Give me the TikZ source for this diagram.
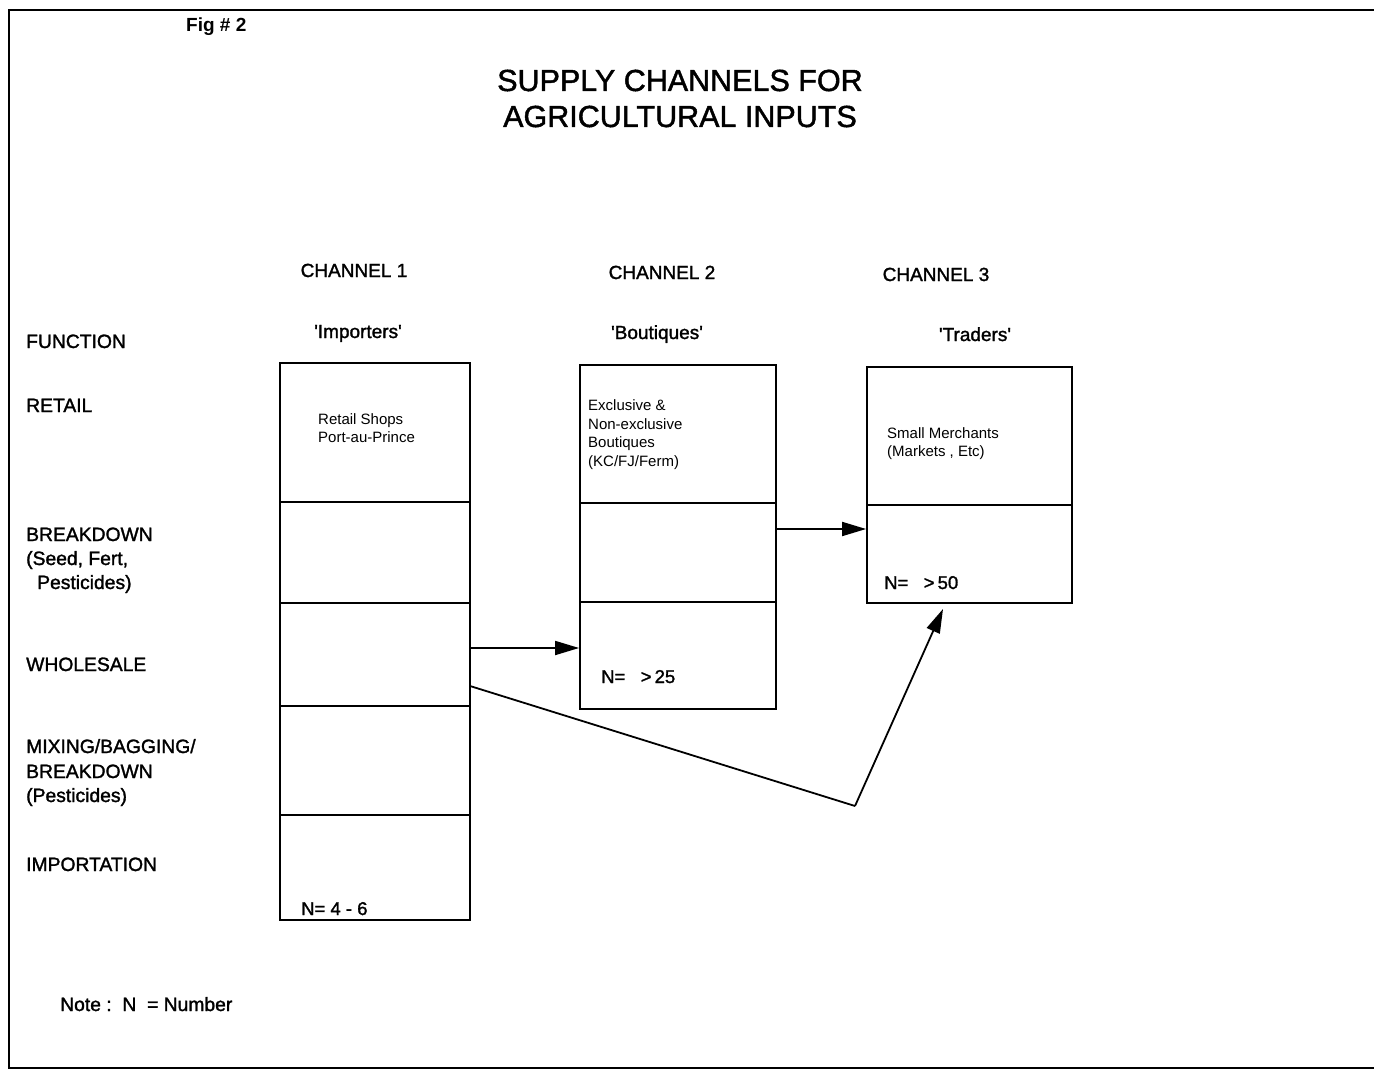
\documentclass[tikz,border=0pt]{standalone}
\usepackage{fontspec}
\setmainfont{Liberation Sans}[BoldFont={Liberation Sans}, BoldFeatures={FakeBold=1.5}]
\newfontfamily\figfont{Liberation Sans Bold}
\usetikzlibrary{arrows.meta}
\begin{document}
\begin{tikzpicture}[x=1pt,y=-1pt,
  cell/.style={draw, line width=1.8pt, inner sep=0pt, rectangle},
  lbl/.style={anchor=base west, inner sep=0pt, font=\bfseries\fontsize{19.3}{22}\selectfont},
  hdr/.style={anchor=base, inner sep=0pt, font=\bfseries\fontsize{19}{22}\selectfont},
  small/.style={anchor=base west, inner sep=0pt, font=\fontsize{15}{18}\selectfont},
  conn/.style={line width=1.8pt},
  arr/.style={line width=1.8pt, -{Triangle[length=24pt,width=14pt]}}]
\useasboundingbox (0,0) rectangle (1374,1070);
% frame
\draw[line width=2.5pt] (1374,10) -- (9,10) -- (9,1068) -- (1374,1068);
% title
\node[anchor=base west, inner sep=0pt, font=\figfont\fontsize{19}{22}\selectfont] (fig) at (186,32) {Fig \# 2};
\node[anchor=base, inner sep=0pt, font=\bfseries\fontsize{30.5}{36}\selectfont] (t1) at (680,91) {SUPPLY CHANNELS FOR};
\node[anchor=base, inner sep=0pt, font=\bfseries\fontsize{30.5}{36}\selectfont] (t2) at (680,127) {AGRICULTURAL INPUTS};
% headers
\node[hdr] (h1) at (354,277) {CHANNEL 1};
\node[hdr] (h2) at (662,279) {CHANNEL 2};
\node[hdr] (h3) at (936,281) {CHANNEL 3};
\node[hdr] (s1) at (358,338) {\textquotesingle Importers\textquotesingle};
\node[hdr] (s2) at (657,339) {\textquotesingle Boutiques\textquotesingle};
\node[hdr] (s3) at (975,341) {\textquotesingle Traders\textquotesingle};
% left labels
\node[lbl] (fn) at (26,348) {FUNCTION};
\node[lbl] (rt) at (26,412) {RETAIL};
\node[lbl] (bd1) at (26,541) {BREAKDOWN};
\node[lbl] (bd2) at (26,565) {(Seed, Fert,};
\node[lbl] (bd3) at (37,589) {Pesticides)};
\node[lbl] (ws) at (26,671) {WHOLESALE};
\node[lbl] (mx1) at (26,753) {MIXING/BAGGING/};
\node[lbl] (mx2) at (26,778) {BREAKDOWN};
\node[lbl] (mx3) at (26,802) {(Pesticides)};
\node[lbl] (im) at (26,871) {IMPORTATION};
\node[lbl] (note) at (60,1011) {Note :\ \ N\ \ = Number};
% channel 1 cells
\node[cell, minimum width=190pt, minimum height=139pt] (c1r1) at (375,432.5) {};
\node[cell, minimum width=190pt, minimum height=101pt] (c1r2) at (375,552.5) {};
\node[cell, minimum width=190pt, minimum height=103pt] (c1r3) at (375,654.5) {};
\node[cell, minimum width=190pt, minimum height=109pt] (c1r4) at (375,760.5) {};
\node[cell, minimum width=190pt, minimum height=105pt] (c1r5) at (375,867.5) {};
% channel 2 cells
\node[cell, minimum width=196pt, minimum height=138pt] (c2r1) at (678,434) {};
\node[cell, minimum width=196pt, minimum height=99pt] (c2r2) at (678,552.5) {};
\node[cell, minimum width=196pt, minimum height=107pt] (c2r3) at (678,655.5) {};
% channel 3 cells
\node[cell, minimum width=205pt, minimum height=138pt] (c3r1) at (969.5,436) {};
\node[cell, minimum width=205pt, minimum height=98pt] (c3r2) at (969.5,554) {};
% cell texts
\node[small] (rs1) at (318,424) {Retail Shops};
\node[small] (rs2) at (318,442) {Port-au-Prince};
\node[small] (ex1) at (588,410) {Exclusive \&};
\node[small] (ex2) at (588,429) {Non-exclusive};
\node[small] (ex3) at (588,447) {Boutiques};
\node[small] (ex4) at (588,466) {(KC/FJ/Ferm)};
\node[small] (sm1) at (887,438) {Small Merchants};
\node[small] (sm2) at (887,456) {(Markets , Etc)};
\node[lbl, font=\bfseries\fontsize{18.5}{22}\selectfont] (n2) at (601,683) {N=\ \ \ >\,25};
\node[lbl, font=\bfseries\fontsize{18.5}{22}\selectfont] (n3) at (884,589) {N=\ \ \ >\,50};
\node[lbl, font=\bfseries\fontsize{18.5}{22}\selectfont] (n1) at (301,915) {N= 4 - 6};
% connectors
\draw[arr] ([yshift=6.5pt]c1r3.east) -- ([yshift=6.5pt]c1r3.east -| c2r3.west);
\draw[arr] ([yshift=23.5pt]c2r2.east) -- ([yshift=23.5pt]c2r2.east -| c3r2.west);
\coordinate (bend) at (855,806);
\coordinate (c1out) at (470,686);
\coordinate (c3in) at (943,609);
\draw[conn] (c1out) -- (bend);
\draw[arr] (bend) -- (c3in);
\end{tikzpicture}
\end{document}
